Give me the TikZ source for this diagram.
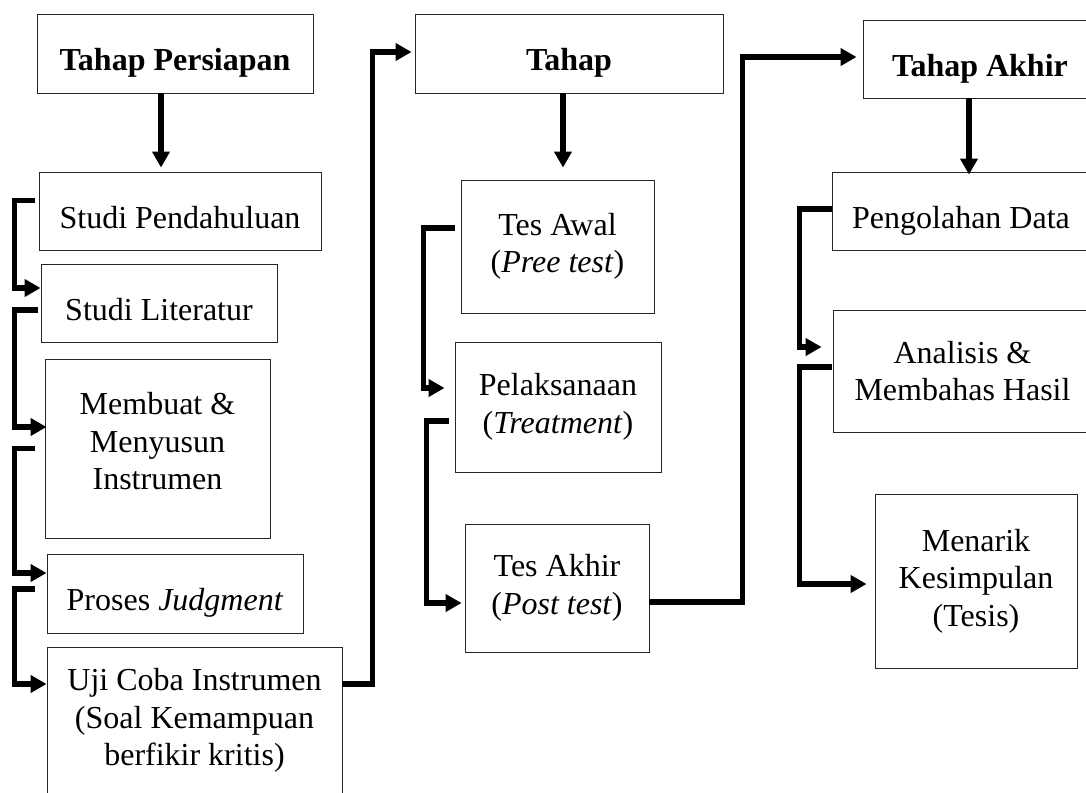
\documentclass[tikz,border=0pt]{standalone}
\usepackage{fontspec}
\setmainfont{Liberation Serif}
\usetikzlibrary{arrows.meta}

\begin{document}
\begin{tikzpicture}[x=1pt, y=-1pt,
  box/.style={draw=black!85, line width=0.9pt, align=center, inner sep=0pt,
    font=\fontsize{32}{37.5}\selectfont},
  oneline/.style={box, text height=34pt, text depth=0pt},
  flow/.style={line width=5.5pt, -{Triangle[length=16pt, width=17pt]}}]
  \useasboundingbox (0,0) rectangle (1086,792);
  \clip (0,0) rectangle (1086,792);

  \node[oneline, minimum width=276pt, minimum height=79pt] (prep) at (175,53.5) {\textbf{Tahap Persiapan}};
  \node[oneline, minimum width=282pt, minimum height=78pt] (studi) at (180,211) {Studi Pendahuluan};
  \node[oneline, minimum width=236pt, minimum height=78pt] (lit) at (159,303) {Studi Literatur};
  \node[box, minimum width=225pt, minimum height=179pt] (instr) at (157.5,448.5) {Membuat \&\\Menyusun\\Instrumen\\[-23pt]\mbox{}};
  \node[oneline, minimum width=256pt, minimum height=79pt] (judg) at (175,593.5) {Proses \textit{Judgment}};
  \node[box, minimum width=295pt, minimum height=147pt] (uji) at (194.5,720.5) {Uji Coba Instrumen\\(Soal Kemampuan\\berfikir kritis)};

  \node[oneline, minimum width=308pt, minimum height=79pt] (impl) at (569,53.5) {\textbf{Tahap}};
  \node[box, minimum width=193pt, minimum height=133pt] (pre) at (557.5,246.5) {Tes Awal\\(\textit{Pree test})};
  \node[box, minimum width=206pt, minimum height=130pt] (treat) at (558,407) {Pelaksanaan\\(\textit{Treatment})};
  \node[box, minimum width=184pt, minimum height=128pt] (post) at (557,588) {Tes Akhir\\(\textit{Post test})};

  \node[oneline, minimum width=234pt, minimum height=78pt] (final) at (980,59) {\textbf{Tahap Akhir}};
  \node[oneline, minimum width=258pt, minimum height=78pt] (data) at (961,211) {Pengolahan Data};
  \node[box, minimum width=259pt, minimum height=122pt] (anal) at (962.5,371) {Analisis \&\\Membahas Hasil};
  \node[box, minimum width=202pt, minimum height=174pt] (concl) at (976,581) {Menarik\\Kesimpulan\\(Tesis)};

  \coordinate (p1) at ([xshift=-14pt]prep.south);
  \coordinate (p2) at ([xshift=-6pt]impl.south);
  \coordinate (p3) at ([xshift=-11pt]final.south);
  \draw[flow, shorten >=4pt] (p1) -- (p1 |- studi.north);
  \draw[flow, shorten >=12pt] (p2) -- (p2 |- pre.north);
  \draw[flow, shorten >=-3pt] (p3) -- (p3 |- data.north);

  \draw[flow] ([xshift=-4pt, yshift=10.5pt]studi.west) -- ++(-20,0) |- ([yshift=15pt]lit.west);
  \draw[flow, shorten >=-2pt] ([xshift=-3pt, yshift=-7pt]lit.west) -- ++(-23,0) |- ([yshift=21.5pt]instr.west);
  \draw[flow] ([xshift=-10pt]instr.west) -- ++(-20,0) |- ([yshift=20.5pt]judg.west);
  \draw[flow] ([xshift=-12pt, yshift=4.5pt]judg.west) -- ++(-20,0) |- ([yshift=36.5pt]uji.west);

  \draw[flow, shorten >=10pt] ([xshift=-6pt, yshift=18.5pt]pre.west) -- ++(-31,0) |- ([yshift=19pt]treat.west);
  \draw[flow, shorten >=3pt] ([xshift=-6pt, yshift=-14pt]treat.west) -- ++(-22,0) |- ([yshift=-15pt]post.west);

  \draw[flow, shorten >=11pt] ([yshift=2pt]data.west) -- ++(-32,0) |- ([yshift=24pt]anal.west);
  \draw[flow, shorten >=8pt] ([xshift=-1pt, yshift=4pt]anal.west) -- ++(-32,0) |- ([yshift=-3pt]concl.west);

  \draw[flow, shorten >=3pt] ([yshift=36.5pt]uji.east) -- ++(30,0) |- ([yshift=1.5pt]impl.west);
  \draw[flow, shorten >=6pt] ([yshift=-14pt]post.east) -- ++(93,0) |- ([yshift=2pt]final.west);
\end{tikzpicture}
\end{document}
